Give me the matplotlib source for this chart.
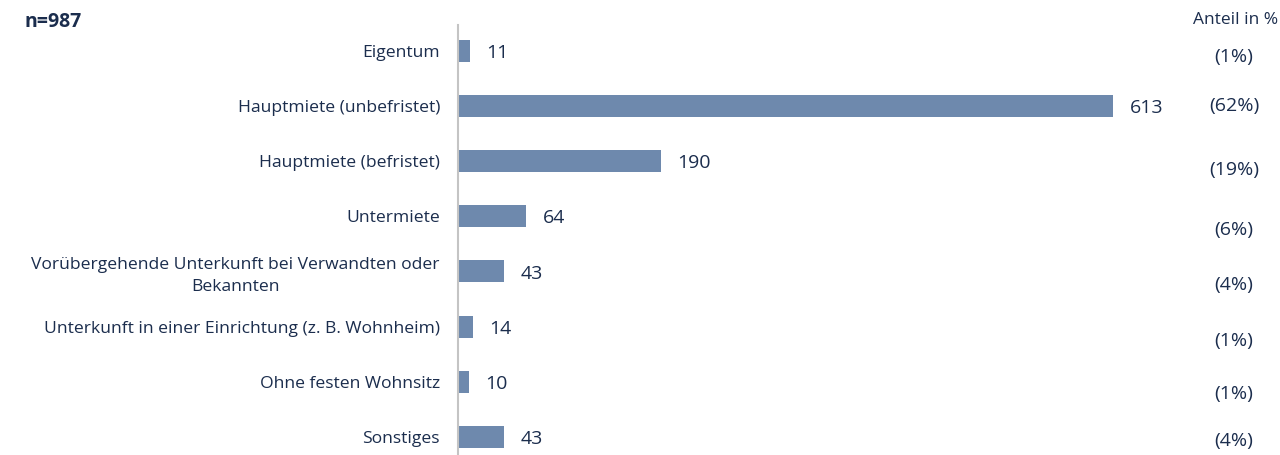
import matplotlib
matplotlib.use("Agg")
import matplotlib.pyplot as plt
import matplotlib.transforms as mtransforms

plt.rcParams["font.family"] = ["Open Sans", "DejaVu Sans"]

_BAR_COLOR = "#6e89ad"
_TEXT_COLOR = "#1b2d4d"
_AXIS_COLOR = "#c4c4c4"

categories = [
    "Eigentum",
    "Hauptmiete (unbefristet)",
    "Hauptmiete (befristet)",
    "Untermiete",
    "Vorübergehende Unterkunft bei Verwandten oder\nBekannten",
    "Unterkunft in einer Einrichtung (z. B. Wohnheim)",
    "Ohne festen Wohnsitz",
    "Sonstiges",
]
counts = [11, 613, 190, 64, 43, 14, 10, 43]
shares = ["(1%)", "(62%)", "(19%)", "(6%)", "(4%)", "(1%)", "(1%)", "(4%)"]
sample_label = "n=987"
share_header = "Anteil in %"

# the share column drifts slightly below each bar row
share_offsets = [0.11, 0.0, 0.16, 0.25, 0.25, 0.27, 0.22, 0.07]

W, H = 1280, 455
fig = plt.figure(figsize=(W / 100, H / 100), dpi=100)
ax_left, ax_right, ax_top = 458, 1113, 25
ax = fig.add_axes([ax_left / W, 0, (ax_right - ax_left) / W, 1 - ax_top / H])

ypos = list(range(len(categories)))
ax.barh(ypos, counts, height=0.4, color=_BAR_COLOR)
ax.set_xlim(0, max(counts))
ax.set_ylim(len(categories) - 1 + 0.33, -0.47)

for spine in ("top", "right", "bottom"):
    ax.spines[spine].set_visible(False)
ax.spines["left"].set_color(_AXIS_COLOR)
ax.spines["left"].set_linewidth(1.5)
ax.set_xticks([])
ax.set_yticks(ypos)
ax.set_yticklabels(categories, fontsize=12.6, color=_TEXT_COLOR, linespacing=1.45)
for lbl in ax.get_yticklabels():
    lbl.set_multialignment("center")
ax.tick_params(axis="y", length=0, pad=13)

for y, v in zip(ypos, counts):
    ax.annotate(str(v), (v, y), xytext=(12, -1.5), textcoords="offset points",
                va="center", ha="left", fontsize=14, color=_TEXT_COLOR)

share_trans = mtransforms.blended_transform_factory(ax.transAxes, ax.transData)
share_x = (1234 - ax_left) / (ax_right - ax_left)
for y, s, off in zip(ypos, shares, share_offsets):
    ax.text(share_x, y + off, s, transform=share_trans, ha="center", va="center",
            fontsize=14, color=_TEXT_COLOR, clip_on=False)

fig.text(24 / W, 1 - 22 / H, sample_label, ha="left", va="center",
         fontsize=14, fontweight="bold", color=_TEXT_COLOR)
fig.text(1278 / W, 1 - 20 / H, share_header, ha="right", va="center",
         fontsize=12.5, color=_TEXT_COLOR)

fig.savefig("out.png", dpi=100)
